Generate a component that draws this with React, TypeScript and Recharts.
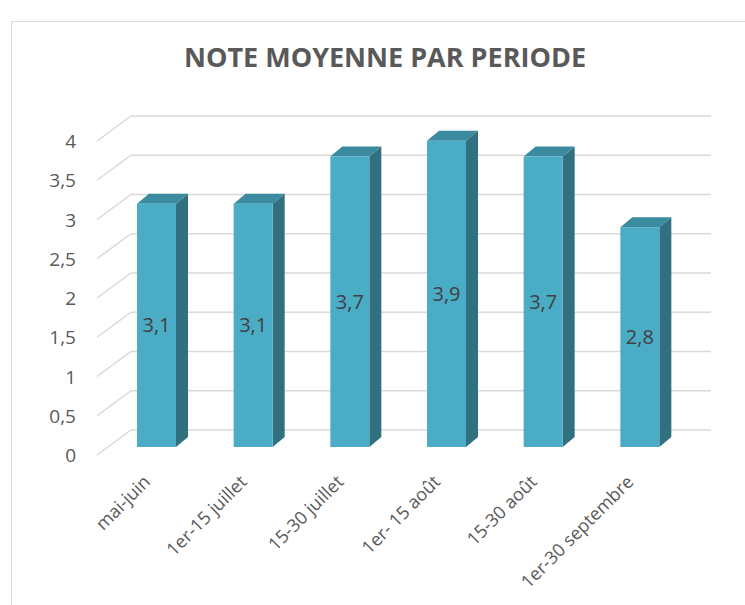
import React from "react";
import { BarChart, Bar, XAxis, YAxis, CartesianGrid, LabelList } from "recharts";

const periodes = [
  "mai-juin",
  "1er-15 juillet",
  "15-30 juillet",
  "1er- 15 août",
  "15-30 août",
  "1er-30 septembre",
];
const notes = [3.1, 3.1, 3.7, 3.9, 3.7, 2.8];
const yTicks = [0, 0.5, 1, 1.5, 2, 2.5, 3, 3.5, 4];

const data = periodes.map((periode, i) => ({ periode, note: notes[i] }));

const FONT = "'Open Sans', sans-serif";
const TEXT = "#595959";
// depth of the bar box and of the back wall
const DX = 12;
const DY = 10;

const fmt = (v: number) => String(v).replace(".", ",");

function Bar3D(props: any) {
  const { x, y, width, height } = props;
  if (height == null || height <= 0) return null;
  const r = x + width;
  return (
    <g>
      <polygon
        points={`${r},${y} ${r + DX},${y - DY} ${r + DX},${y + height - DY} ${r},${y + height}`}
        fill="#30707f"
      />
      <polygon
        points={`${x},${y} ${x + DX},${y - DY} ${r + DX},${y - DY} ${r},${y}`}
        fill="#3a8aa0"
      />
      <rect x={x} y={y} width={width} height={height} fill="#4bacc6" />
    </g>
  );
}

function GridLine(props: any) {
  const { x1, x2, y1 } = props;
  return (
    <polyline
      points={`${x1 - 11},${y1 + 8} ${x1 + 23},${y1 - 17} ${x2 + 23},${y1 - 17}`}
      fill="none"
      stroke="#d9d9d9"
      strokeWidth={1.5}
    />
  );
}

function YTick(props: any) {
  const { y, payload } = props;
  return (
    <text
      x={76}
      y={y + 8}
      textAnchor="end"
      dominantBaseline="central"
      fill={TEXT}
      fontSize={19}
      fontFamily={FONT}
    >
      {fmt(payload.value)}
    </text>
  );
}

function XTick(props: any) {
  const { x, payload } = props;
  return (
    <g transform={`translate(${x - 5},${483})`}>
      <text
        transform="rotate(-45)"
        textAnchor="end"
        fill={TEXT}
        fontSize={18}
        fontFamily={FONT}
      >
        {payload.value}
      </text>
    </g>
  );
}

export default function App() {
  return (
    <div
      style={{
        position: "absolute",
        left: 0,
        top: 0,
        width: 745,
        height: 605,
        overflow: "hidden",
        background: "#fff",
      }}
    >
      <div
        style={{
          position: "absolute",
          left: 11,
          top: 21,
          width: 800,
          height: 700,
          border: "1.5px solid #d9d9d9",
        }}
      />
      <div
        style={{
          position: "absolute",
          left: 0,
          top: 38,
          width: 770,
          textAlign: "center",
          fontFamily: FONT,
          fontWeight: 700,
          fontSize: 27,
          color: TEXT,
          lineHeight: "38px",
        }}
      >
        NOTE MOYENNE PAR PERIODE
      </div>
      <div style={{ position: "absolute", left: 0, top: 0 }}>
        <BarChart
          width={745}
          height={605}
          data={data}
          barSize={39}
          margin={{ top: 133, right: 57, left: 0, bottom: 0 }}
        >
          <CartesianGrid vertical={false} horizontal={<GridLine />} />
          <XAxis
            dataKey="periode"
            axisLine={false}
            tickLine={false}
            height={158}
            interval={0}
            tick={<XTick />}
          />
          <YAxis
            domain={[0, 4]}
            ticks={yTicks}
            width={108}
            axisLine={false}
            tickLine={false}
            tick={<YTick />}
          />
          <Bar dataKey="note" shape={<Bar3D />} isAnimationActive={false}>
            <LabelList
              dataKey="note"
              position="center"
              formatter={(v: any) => fmt(v)}
              fill="#404040"
              fontSize={20}
              fontFamily={FONT}
            />
          </Bar>
        </BarChart>
      </div>
    </div>
  );
}
